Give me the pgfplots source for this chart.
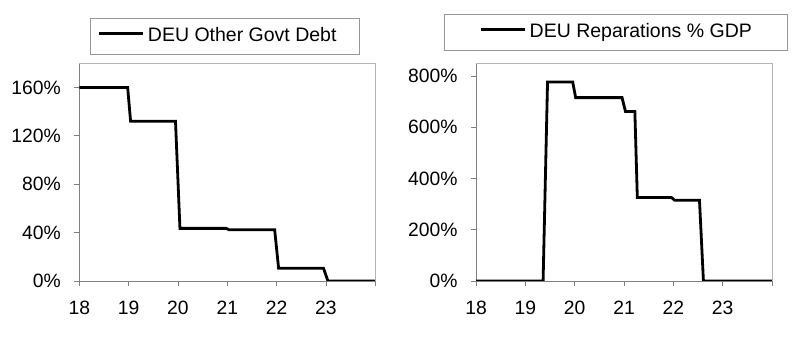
\documentclass[border=0pt]{standalone}
\usepackage{fontspec}
\setmainfont{Liberation Sans}
\usepackage{pgfplots}
\pgfplotsset{compat=1.18}
\definecolor{axgray}{RGB}{128,128,128}
\definecolor{boxgray}{RGB}{180,180,180}
\definecolor{leggray}{RGB}{150,150,150}
\pgfplotsset{
  mystyle/.style={
    scale only axis,
    width=296pt, height=217.7pt,
    anchor=south west,
    xmin=18, xmax=24,
    axis x line=bottom, axis y line=left,
    axis line style={-, draw=axgray, line width=0.8pt},
    tick style={draw=axgray, line width=0.8pt},
    tick align=outside,
    major tick length=5pt,
    xtick={18,19,20,21,22,23,24},
    xticklabels={18,19,20,21,22,23,},
    /pgf/number format/assume math mode=true,
    ticklabel style={font=\fontsize{19.3}{22}\selectfont},
    yticklabel={\pgfmathprintnumber{\tick}\%},
    yticklabel style={xshift=-10pt},
    xticklabel style={yshift=-11pt},
    legend image code/.code={\path (0pt,0pt); \draw[##1, line width=2.8pt] (\legpad,3pt) -- ++(44.3pt,0pt);},
    legend style={draw=leggray, line width=0.8pt, inner sep=0pt, anchor=center,
      nodes={inner sep=0pt, text height=22.7pt, text depth=13pt}, font=\fontsize{19.5}{22}\selectfont,
      /tikz/every even column/.style={column sep=0pt}},
    after end axis/.code={\draw[boxgray, line width=0.8pt] (rel axis cs:0,1) -- (rel axis cs:1,1) -- (rel axis cs:1,0);},
  }
}
\begin{document}
\begin{tikzpicture}[x=1pt,y=1pt]
\path (0,0) rectangle (800,344);
\def\legpad{7pt}
\begin{axis}[mystyle, at={(79.3pt,63pt)},
  ymin=0, ymax=180, ytick={0,40,80,120,160},
  legend style={at={(0.4927,1.1245)}}]
\addplot[black, line width=2.8pt] coordinates {
(18,160) (18.98,160) (19.04,132) (19.95,132) (20.04,43.5) (20.98,43.5) (21.04,42.3) (21.96,42.3) (22.04,10.5) (22.95,10.5) (23.04,0) (24,0)
};
\addlegendentry{\makebox[215.3pt][l]{\hspace{3.4pt}DEU Other Govt Debt}}
\end{axis}
\def\legpad{35pt}
\begin{axis}[mystyle, at={(476pt,63pt)},
  ymin=0, ymax=850, ytick={0,200,400,600,800},
  legend style={at={(0.472,1.1406)}}]
\addplot[black, line width=2.8pt] coordinates {
(18,0) (19.36,0) (19.45,777) (19.96,777) (20.02,716) (20.96,716) (21.03,662) (21.22,662) (21.27,326) (21.96,326) (22.03,315) (22.53,315) (22.61,0) (24,0)
};
\addlegendentry{\makebox[260.7pt][l]{\hspace{3.3pt}DEU Reparations \% GDP}}
\end{axis}
\end{tikzpicture}%
\end{document}
